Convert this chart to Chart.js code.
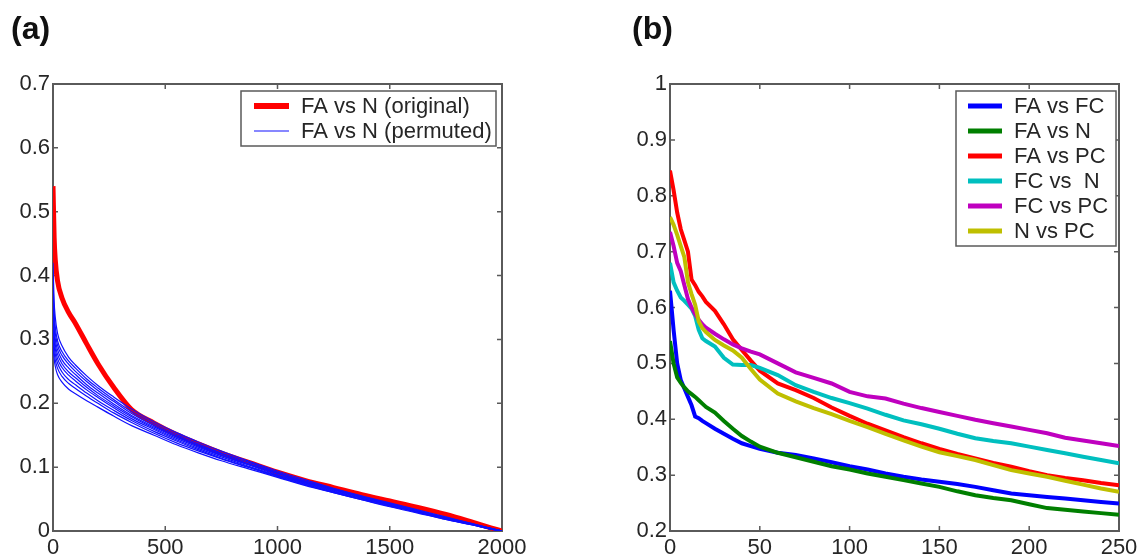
<!DOCTYPE html>
<html>
<head>
<meta charset="utf-8">
<script src="https://cdn.jsdelivr.net/npm/chart.js@4.4.1/dist/chart.umd.min.js"></script>
<style>
  html, body { margin: 0; padding: 0; background: #fff; overflow: hidden; }
  .panel { position: absolute; top: 0; width: 573px; height: 559px; }
  #wrapA { left: 0; }
  #wrapB { left: 573px; }
</style>
</head>
<body>
<div class="panel" id="wrapA"><canvas id="chartA"></canvas></div>
<div class="panel" id="wrapB"><canvas id="chartB"></canvas></div>
<script>
// ---------- Panel (a): sorted values, original vs permuted ----------
const xA = [0, 5, 10, 20, 40, 70, 100, 150, 200, 270, 350, 450, 550, 650, 750, 875, 1000, 1125, 1250, 1375, 1500, 1625, 1750, 1875, 1950, 2000];
const originalA = [0.54, 0.46, 0.425, 0.392, 0.365, 0.342, 0.325, 0.293, 0.262, 0.225, 0.19, 0.169, 0.151, 0.136, 0.122, 0.107, 0.092, 0.079, 0.068, 0.057, 0.047, 0.037, 0.026, 0.013, 0.005, 0];
const perm1 = [0.42, 0.36, 0.335, 0.31, 0.29, 0.272, 0.26, 0.243, 0.228, 0.21, 0.191, 0.171, 0.154, 0.139, 0.125, 0.109, 0.094, 0.08, 0.067, 0.055, 0.044, 0.033, 0.022, 0.011, 0.004, 0];
const perm2 = [0.39, 0.345, 0.32, 0.298, 0.281, 0.266, 0.255, 0.238, 0.224, 0.206, 0.187, 0.168, 0.151, 0.136, 0.122, 0.107, 0.092, 0.078, 0.066, 0.054, 0.043, 0.032, 0.021, 0.011, 0.004, 0];
const perm3 = [0.37, 0.33, 0.31, 0.291, 0.275, 0.261, 0.25, 0.234, 0.22, 0.203, 0.184, 0.165, 0.149, 0.134, 0.121, 0.105, 0.091, 0.077, 0.065, 0.053, 0.042, 0.031, 0.021, 0.01, 0.004, 0];
const perm4 = [0.35, 0.318, 0.3, 0.284, 0.268, 0.255, 0.245, 0.229, 0.216, 0.199, 0.181, 0.163, 0.147, 0.133, 0.119, 0.104, 0.09, 0.076, 0.064, 0.053, 0.042, 0.031, 0.02, 0.01, 0.004, 0];
const perm5 = [0.335, 0.308, 0.292, 0.277, 0.262, 0.249, 0.24, 0.225, 0.212, 0.196, 0.179, 0.161, 0.145, 0.131, 0.118, 0.103, 0.088, 0.075, 0.063, 0.052, 0.041, 0.03, 0.02, 0.01, 0.004, 0];
const perm6 = [0.32, 0.298, 0.285, 0.27, 0.256, 0.244, 0.235, 0.221, 0.209, 0.193, 0.176, 0.159, 0.143, 0.129, 0.116, 0.101, 0.087, 0.074, 0.062, 0.051, 0.04, 0.03, 0.019, 0.01, 0.003, 0];
const perm7 = [0.31, 0.29, 0.277, 0.263, 0.249, 0.237, 0.229, 0.216, 0.204, 0.189, 0.173, 0.156, 0.141, 0.127, 0.114, 0.1, 0.086, 0.073, 0.061, 0.05, 0.04, 0.029, 0.019, 0.009, 0.003, 0];
const perm8 = [0.3, 0.28, 0.268, 0.255, 0.242, 0.231, 0.223, 0.211, 0.2, 0.185, 0.17, 0.153, 0.138, 0.125, 0.113, 0.099, 0.085, 0.072, 0.06, 0.049, 0.039, 0.029, 0.018, 0.009, 0.003, 0];
const perm9 = [0.29, 0.27, 0.258, 0.245, 0.233, 0.222, 0.215, 0.204, 0.194, 0.18, 0.165, 0.15, 0.135, 0.122, 0.11, 0.097, 0.084, 0.071, 0.06, 0.049, 0.038, 0.028, 0.018, 0.009, 0.003, 0];
const permutedA = [perm1, perm2, perm3, perm4, perm5, perm6, perm7, perm8, perm9];
const xTicksA = [0, 500, 1000, 1500, 2000];
const yTicksA = [0, 0.1, 0.2, 0.3, 0.4, 0.5, 0.6, 0.7];

// ---------- Panel (b): pairwise comparisons ----------
const xB = [0, 2, 4, 6, 8, 10, 12, 14, 16, 18, 20, 25, 30, 35, 40, 45, 50, 60, 70, 80, 90, 100, 110, 120, 130, 140, 150, 160, 170, 180, 190, 200, 210, 220, 230, 240, 250];
const faVsFc = [0.63, 0.56, 0.5, 0.47, 0.455, 0.44, 0.425, 0.405, 0.402, 0.397, 0.393, 0.383, 0.374, 0.365, 0.357, 0.352, 0.347, 0.34, 0.336, 0.33, 0.323, 0.316, 0.31, 0.303, 0.297, 0.292, 0.288, 0.284, 0.279, 0.273, 0.267, 0.264, 0.261, 0.258, 0.255, 0.252, 0.249];
const faVsN = [0.54, 0.5, 0.475, 0.465, 0.457, 0.45, 0.445, 0.44, 0.434, 0.428, 0.422, 0.412, 0.397, 0.383, 0.37, 0.36, 0.351, 0.34, 0.332, 0.324, 0.316, 0.31, 0.303, 0.297, 0.291, 0.285, 0.279, 0.271, 0.264, 0.259, 0.255, 0.248, 0.241, 0.238, 0.235, 0.232, 0.229];
const faVsPc = [0.845, 0.81, 0.77, 0.74, 0.72, 0.7, 0.65, 0.64, 0.628, 0.62, 0.61, 0.594, 0.57, 0.543, 0.524, 0.505, 0.487, 0.464, 0.452, 0.438, 0.421, 0.406, 0.392, 0.38, 0.368, 0.357, 0.347, 0.338, 0.33, 0.322, 0.315, 0.307, 0.3, 0.295, 0.291, 0.286, 0.282];
const fcVsN = [0.68, 0.645, 0.63, 0.618, 0.612, 0.605, 0.598, 0.585, 0.56, 0.545, 0.54, 0.53, 0.51, 0.498, 0.497, 0.497, 0.492, 0.479, 0.461, 0.449, 0.438, 0.429, 0.419, 0.408, 0.398, 0.391, 0.383, 0.374, 0.366, 0.361, 0.357, 0.351, 0.345, 0.339, 0.333, 0.327, 0.321];
const fcVsPc = [0.735, 0.71, 0.68, 0.665, 0.64, 0.615, 0.6, 0.588, 0.578, 0.57, 0.564, 0.553, 0.543, 0.534, 0.527, 0.521, 0.516, 0.5, 0.484, 0.474, 0.464, 0.449, 0.441, 0.437, 0.428, 0.42, 0.413, 0.406, 0.399, 0.393, 0.387, 0.381, 0.375, 0.367, 0.362, 0.357, 0.352];
const nVsPc = [0.762, 0.748, 0.73, 0.71, 0.69, 0.645, 0.624, 0.605, 0.575, 0.563, 0.556, 0.542, 0.532, 0.523, 0.51, 0.49, 0.471, 0.446, 0.432, 0.42, 0.409, 0.397, 0.386, 0.374, 0.362, 0.351, 0.341, 0.334, 0.327, 0.318, 0.309, 0.303, 0.297, 0.29, 0.283, 0.276, 0.27];
const seriesB = [faVsFc, faVsN, faVsPc, fcVsN, fcVsPc, nVsPc];
const labelsB = ['FA vs FC', 'FA vs N', 'FA vs PC', 'FC vs  N', 'FC vs PC', 'N vs PC'];
const colorsB = ['#0000ff', '#007f00', '#ff0000', '#00bfbf', '#bf00bf', '#bfbf00'];
const xTicksB = [0, 50, 100, 150, 200, 250];
const yTicksB = [0.2, 0.3, 0.4, 0.5, 0.6, 0.7, 0.8, 0.9, 1];

const FONT = "'Liberation Sans', Arial, Helvetica, sans-serif";
const TEXT = '#262626';
const AXIS = '#5a5a5a';

const toPoints = (xs, ys) => xs.map((x, i) => ({ x: x, y: ys[i] }));

// Box around the plot area with inward tick marks on all four sides.
const framePlugin = {
  id: 'frame',
  beforeDatasetsDraw(chart) {
    const { ctx, chartArea: a, scales } = chart;
    ctx.save();
    ctx.strokeStyle = AXIS;
    ctx.lineWidth = 1.5;
    ctx.beginPath();
    scales.x.ticks.forEach(t => {
      const px = scales.x.getPixelForValue(t.value);
      ctx.moveTo(px, a.bottom); ctx.lineTo(px, a.bottom - 5);
      ctx.moveTo(px, a.top); ctx.lineTo(px, a.top + 5);
    });
    scales.y.ticks.forEach(t => {
      const py = scales.y.getPixelForValue(t.value);
      ctx.moveTo(a.left, py); ctx.lineTo(a.left + 5, py);
      ctx.moveTo(a.right, py); ctx.lineTo(a.right - 5, py);
    });
    ctx.stroke();
    ctx.lineWidth = 2;
    ctx.strokeRect(a.left, a.top, a.right - a.left, a.bottom - a.top);
    ctx.restore();
  }
};

// Boxed legend in the upper right corner of the plot area.
const boxLegendPlugin = {
  id: 'boxLegend',
  afterDraw(chart, args, opts) {
    const { ctx, chartArea: a } = chart;
    const items = chart.data.datasets.filter(d => d.inLegend);
    const w = opts.width, rowH = opts.rowHeight;
    const h = items.length * rowH + 5;
    const x0 = a.right - opts.right - w;
    const y0 = a.top + opts.top;
    ctx.save();
    ctx.fillStyle = '#fff';
    ctx.fillRect(x0, y0, w, h);
    ctx.strokeStyle = AXIS;
    ctx.lineWidth = 1.5;
    ctx.strokeRect(x0, y0, w, h);
    ctx.font = '22px ' + FONT;
    ctx.textBaseline = 'middle';
    ctx.textAlign = 'left';
    items.forEach((d, i) => {
      const cy = y0 + 15 + i * rowH;
      ctx.strokeStyle = d.borderColor;
      ctx.lineWidth = d.legendWidth || d.borderWidth;
      ctx.beginPath();
      ctx.moveTo(x0 + opts.lineStart, cy);
      ctx.lineTo(x0 + opts.lineStart + opts.lineLength, cy);
      ctx.stroke();
      ctx.fillStyle = TEXT;
      ctx.fillText(d.label, x0 + opts.textStart, cy + 1);
    });
    ctx.restore();
  }
};

function axisOptions(min, max, tickValues, fixedSize, isX) {
  return {
    type: 'linear',
    min: min,
    max: max,
    grid: { display: false, drawTicks: false },
    border: { display: false },
    afterBuildTicks: scale => { scale.ticks = tickValues.map(v => ({ value: v })); },
    afterFit: scale => { if (isX) scale.height = fixedSize; else scale.width = fixedSize; },
    ticks: {
      color: TEXT,
      font: { family: FONT, size: 22 },
      padding: isX ? 4 : 3,
      maxRotation: 0,
      autoSkip: false,
      callback: v => String(v)
    }
  };
}

function baseOptions(title, padLeft, padRight, xMin, xMax, xTicks, yMin, yMax, yTicks, yWidth, legendOpts) {
  return {
    responsive: true,
    maintainAspectRatio: false,
    animation: false,
    events: [],
    layout: { padding: { left: padLeft, right: padRight, top: 0, bottom: 0 } },
    elements: { point: { radius: 0 } },
    scales: {
      x: axisOptions(xMin, xMax, xTicks, 28, true),
      y: axisOptions(yMin, yMax, yTicks, yWidth, false)
    },
    plugins: {
      legend: { display: false },
      tooltip: { enabled: false },
      title: {
        display: true,
        text: title,
        align: 'start',
        color: '#111',
        font: { family: FONT, size: 32, weight: 'bold', lineHeight: 1.2 },
        padding: { top: 11, bottom: 34.6 }
      },
      boxLegend: legendOpts
    }
  };
}

// ----- chart (a) -----
const datasetsA = [{
  label: 'FA vs N (original)',
  data: toPoints(xA, originalA),
  borderColor: '#ff0000',
  borderWidth: 5,
  legendWidth: 6,
  cubicInterpolationMode: 'monotone',
  order: 1,
  inLegend: true
}];
permutedA.forEach((vals, i) => {
  datasetsA.push({
    label: 'FA vs N (permuted)',
    data: toPoints(xA, vals),
    borderColor: '#1010ff',
    borderWidth: 1.2,
    legendWidth: 1.2,
    cubicInterpolationMode: 'monotone',
    order: 0,
    inLegend: i === 0
  });
});

new Chart(document.getElementById('chartA'), {
  type: 'line',
  data: { datasets: datasetsA },
  options: baseOptions('(a)', 11, 71, 0, 2000, xTicksA, 0, 0.7, yTicksA, 42,
    { width: 255, right: 6, top: 7, rowHeight: 25, lineStart: 13, lineLength: 35, textStart: 60 }),
  plugins: [framePlugin, boxLegendPlugin]
});

// ----- chart (b) -----
const datasetsB = seriesB.map((vals, i) => ({
  label: labelsB[i],
  data: toPoints(xB, vals),
  borderColor: colorsB[i],
  borderWidth: 4,
  legendWidth: 5,
  tension: 0,
  order: seriesB.length - i,
  inLegend: true
}));

new Chart(document.getElementById('chartB'), {
  type: 'line',
  data: { datasets: datasetsB },
  options: baseOptions('(b)', 59, 27, 0, 250, xTicksB, 0.2, 1, yTicksB, 38,
    { width: 160, right: 3, top: 7, rowHeight: 25, lineStart: 12, lineLength: 34, textStart: 58 }),
  plugins: [framePlugin, boxLegendPlugin]
});
</script>
</body>
</html>
